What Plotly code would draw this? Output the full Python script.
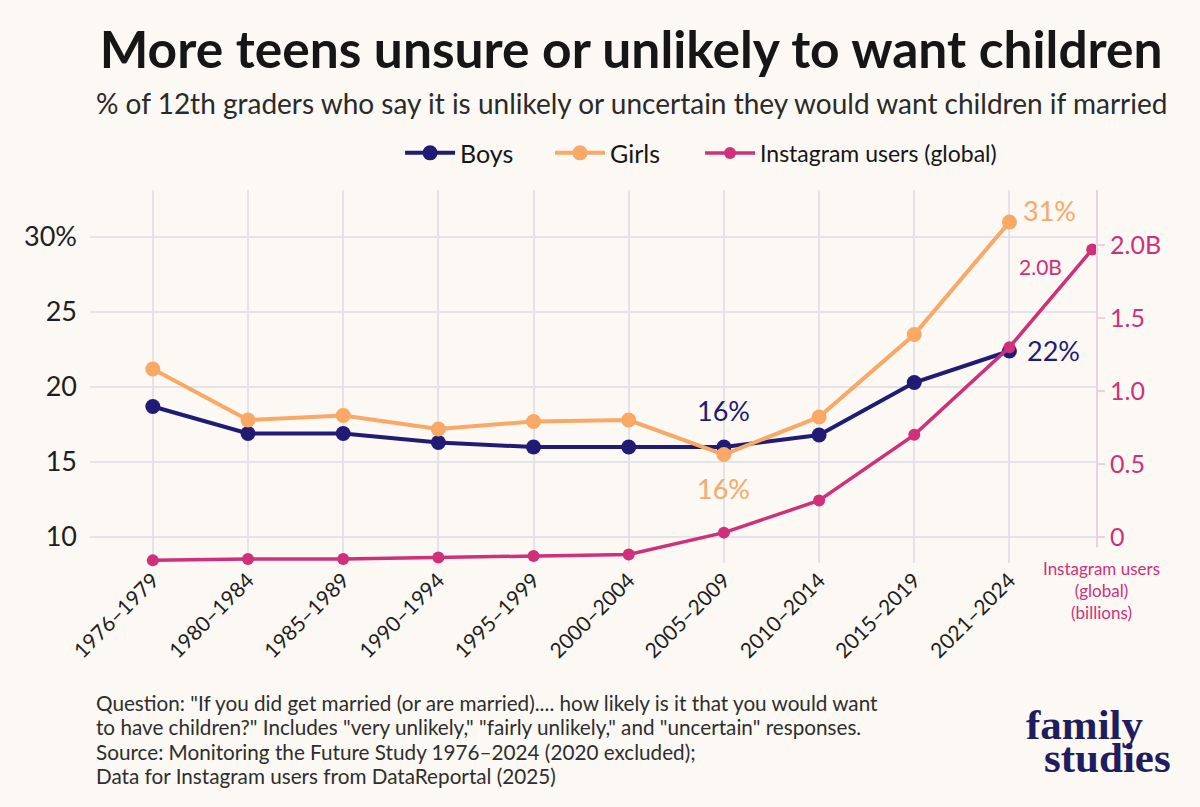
import plotly.graph_objects as go

periods = ["1976–1979", "1980–1984", "1985–1989", "1990–1994", "1995–1999",
           "2000–2004", "2005–2009", "2010–2014", "2015–2019", "2021–2024"]
period_pos = list(range(len(periods)))

boys = [18.7, 16.9, 16.9, 16.3, 16.0, 16.0, 16.0, 16.8, 20.3, 22.4]
girls = [21.2, 17.8, 18.1, 17.2, 17.7, 17.8, 15.5, 18.0, 23.5, 31.0]

# Instagram series has one extra point (2025) drawn at the right axis
insta_pos = period_pos + [9.87]
instagram = [-0.16, -0.15, -0.15, -0.14, -0.13, -0.12, 0.03, 0.25, 0.70, 1.30, 1.97]

footnote = [
    "Question: \"If you did get married (or are married).... how likely is it that you would want",
    "to have children?\" Includes \"very unlikely,\" \"fairly unlikely,\" and \"uncertain\" responses.",
    "Source: Monitoring the Future Study 1976–2024 (2020 excluded);",
    "Data for Instagram users from DataReportal (2025)",
]

NAVY = "#211b75"
ORANGE = "#f9a866"
PINK = "#d0307a"
BG = "#fcf8f3"
GRID = "#e4e3ea"
FONT = "Lato"

fig = go.Figure()
fig.add_trace(go.Scatter(x=period_pos, y=boys, name="Boys", mode="lines+markers",
                         line=dict(color=NAVY, width=4), marker=dict(size=15, color=NAVY),
                         cliponaxis=False, legend="legend"))
fig.add_trace(go.Scatter(x=period_pos, y=girls, name="Girls", mode="lines+markers",
                         line=dict(color=ORANGE, width=4), marker=dict(size=15, color=ORANGE),
                         cliponaxis=False, legend="legend2"))
fig.add_trace(go.Scatter(x=insta_pos, y=instagram, name="Instagram users (global)",
                         mode="lines+markers", yaxis="y2",
                         line=dict(color=PINK, width=3.5), marker=dict(size=12, color=PINK),
                         cliponaxis=False, legend="legend3"))

leg = dict(orientation="h", xanchor="left", y=1.099, yanchor="middle",
           font=dict(size=24, color="#161616"), itemwidth=50, bgcolor="rgba(0,0,0,0)")

fig.update_layout(
    width=1200, height=807,
    paper_bgcolor=BG, plot_bgcolor=BG,
    margin=dict(l=90, r=103, t=190, b=244),
    font=dict(family=FONT, color="#1e1e1e"),
    title=dict(text="<b>More teens unsure or unlikely to want children</b>",
               x=0.526, xanchor="center", y=0.938, yanchor="middle",
               font=dict(size=51.5, color="#161616", family=FONT)),
    showlegend=True,
    legend=dict(leg, x=0.3079, font=dict(size=25, color="#161616")),
    legend2=dict(leg, x=0.4568, font=dict(size=25, color="#161616")),
    legend3=dict(leg, x=0.6058, font=dict(size=23, color="#161616")),
    xaxis=dict(range=[-0.66, 9.92], tickvals=period_pos, ticktext=periods, tickangle=-45,
               tickfont=dict(size=21, color="#1e1e1e"),
               showgrid=True, gridcolor=GRID, gridwidth=1.5,
               showline=False, zeroline=False, ticks=""),
    yaxis=dict(range=[8.27, 33.13], tickvals=[10, 15, 20, 25, 30],
               ticktext=["10", "15", "20", "25", "30%"],
               tickfont=dict(size=27, color="#1e1e1e"),
               showgrid=True, gridcolor=GRID, gridwidth=1.5,
               zeroline=False, showline=False, ticks="", ticklabelstandoff=12),
    yaxis2=dict(overlaying="y", side="right", range=[-0.178, 2.377],
                tickvals=[0, 0.5, 1.0, 1.5, 2.0],
                ticktext=["0", "0.5", "1.0", "1.5", "2.0B"],
                tickfont=dict(size=25, color=PINK),
                showgrid=False, zeroline=False, showline=False,
                ticks="outside", tickcolor="#ecd2de", ticklen=7, tickwidth=2),
)

# right axis line, stops just under zero
fig.add_shape(type="line", xref="paper", yref="y2", x0=1, x1=1, y0=-0.07, y1=2.377,
              line=dict(color="#ecd2de", width=2))

fig.add_annotation(text="% of 12th graders who say it is unlikely or uncertain they would want children if married",
                   xref="paper", yref="paper", x=0.538, y=1.233, xanchor="center", yanchor="middle",
                   showarrow=False, font=dict(size=28, color="#2a2a2a"))

# value labels
labels = [
    dict(x=6, y=boys[6], text="16%", color=NAVY, xs=0, ys=37),
    dict(x=6, y=girls[6], text="16%", color=ORANGE, xs=0, ys=-34),
    dict(x=9, y=girls[9], text="31%", color=ORANGE, xs=40, ys=11),
    dict(x=9, y=boys[9], text="22%", color=NAVY, xs=44, ys=0),
]
for lb in labels:
    fig.add_annotation(x=lb["x"], y=lb["y"], xref="x", yref="y", text=lb["text"],
                       showarrow=False, xshift=lb["xs"], yshift=lb["ys"],
                       font=dict(size=27, color=lb["color"]))
fig.add_annotation(x=9, y=instagram[10], xref="x", yref="y2", text="2.0B",
                   showarrow=False, xshift=31, yshift=-17, font=dict(size=21, color=PINK))

fig.add_annotation(text="Instagram users<br>(global)<br>(billions)", xref="paper", yref="paper",
                   x=1.004, y=0.019, xanchor="center", yanchor="top", align="center",
                   showarrow=False, font=dict(size=17, color=PINK))

for i, line in enumerate(footnote):
    fig.add_annotation(text=line, xref="paper", yref="paper",
                       x=0.004, y=-0.375 - i * 0.0655, xanchor="left", yanchor="middle",
                       showarrow=False, font=dict(size=20.7, color="#2e2e2e"))

fig.add_annotation(text="<b>family</b>", xref="paper", yref="paper",
                   x=0.988, y=-0.434, xanchor="center", yanchor="middle",
                   showarrow=False, font=dict(size=43, color="#1f1d5e", family="Liberation Serif"))
fig.add_annotation(text="<b>studies</b>", xref="paper", yref="paper",
                   x=1.01, y=-0.522, xanchor="center", yanchor="middle",
                   showarrow=False, font=dict(size=43, color="#1f1d5e", family="Liberation Serif"))

fig.write_html("out.html", config={"displayModeBar": False},
               post_script="document.body.style.margin='0px';")
